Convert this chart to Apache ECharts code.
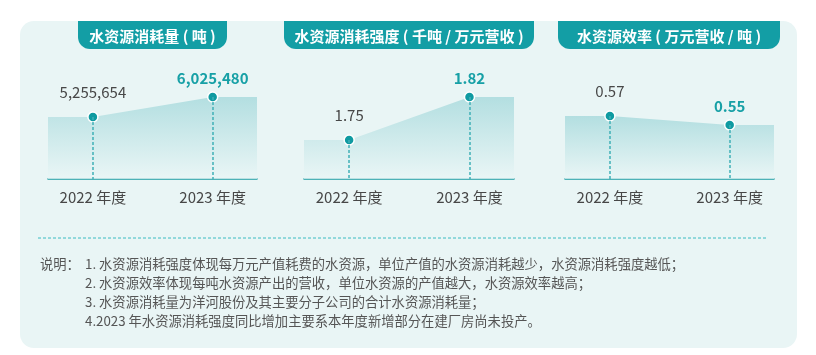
<!DOCTYPE html>
<html><head><meta charset="utf-8">
<script src="https://cdn.jsdelivr.net/npm/echarts@6/dist/echarts.min.js"></script>
<style>html,body{margin:0;padding:0;background:#fff}#c{width:816px;height:355px}</style>
</head><body><div id="c"></div>
<script>
var years = [2022, 2023];
var yearLabels = ['2022 年度', '2023 年度'];
var titles = ['水资源消耗量 ( 吨 )', '水资源消耗强度 ( 千吨 / 万元营收 )', '水资源效率 ( 万元营收 / 吨 )'];
var consumption = [5255654, 6025480];
var intensity = [1.75, 1.82];
var efficiency = [0.57, 0.55];
var valueTexts = [['5,255,654', '6,025,480'], ['1.75', '1.82'], ['0.57', '0.55']];
var notes = [
  '1. 水资源消耗强度体现每万元产值耗费的水资源，单位产值的水资源消耗越少，水资源消耗强度越低；',
  '2. 水资源效率体现每吨水资源产出的营收，单位水资源的产值越大，水资源效率越高；',
  '3. 水资源消耗量为洋河股份及其主要分子公司的合计水资源消耗量；',
  '4.2023 年水资源消耗强度同比增加主要系本年度新增部分在建厂房尚未投产。'
];
var noteLabel = '说明：';

var FONT = '"Noto Sans CJK SC","Noto Sans",sans-serif';
var TEAL = '#139ea5';
var XMIN = 2021.625, XMAX = 2023.37;
var series = [consumption, intensity, efficiency];
var yRanges = [[2870000, 8220000], [1.6865, 1.9128], [0.43, 0.739]];
var grids = [{left: 48, width: 209}, {left: 304, width: 210}, {left: 565, width: 209}];
var tabs = [[78, 149], [284, 250], [558, 222]];

var chart = echarts.init(document.getElementById('c'));
var opt = {
  animation: false,
  textStyle: {fontFamily: FONT},
  grid: [], xAxis: [], yAxis: [], series: [],
  graphic: []
};
grids.forEach(function (g, i) {
  opt.grid.push({left: g.left, width: g.width, top: 40, bottom: 176});
  opt.xAxis.push({
    type: 'value', gridIndex: i, min: XMIN, max: XMAX,
    splitLine: {show: false},
    axisLine: {show: true, onZero: false, lineStyle: {color: '#1b9ca2', width: 1.5}},
    axisTick: {show: false},
    axisLabel: {
      customValues: years, margin: 11, fontSize: 15, color: '#474747', fontFamily: FONT,
      formatter: function (v) { var k = years.indexOf(Math.round(v)); return k >= 0 ? yearLabels[k] : ''; }
    }
  });
  opt.yAxis.push({type: 'value', gridIndex: i, min: yRanges[i][0], max: yRanges[i][1], show: false});
  var vals = series[i];
  var data = [
    {value: [XMIN, vals[0]], symbol: 'none', label: {show: false}},
    {value: [years[0], vals[0]], label: {show: true, formatter: valueTexts[i][0], distance: 11, color: '#474747', fontSize: 15, fontWeight: 'normal'}},
    {value: [years[1], vals[1]], label: {show: true, formatter: valueTexts[i][1], distance: 5, color: '#17a0a6', fontSize: 15, fontWeight: 'bold'}},
    {value: [XMAX, vals[1]], symbol: 'none', label: {show: false}}
  ];
  opt.series.push({
    type: 'line', xAxisIndex: i, yAxisIndex: i, data: data,
    symbol: 'circle', symbolSize: 10, showAllSymbol: true,
    itemStyle: {color: '#0f9aa1', borderColor: '#fff', borderWidth: 1.5},
    lineStyle: {width: 0},
    label: {position: 'top', fontFamily: FONT},
    areaStyle: {
      color: new echarts.graphic.LinearGradient(0, 0, 0, 1, [
        {offset: 0, color: '#9cd5d8'}, {offset: 1, color: '#eaf6f6'}
      ])
    },
    z: 3,
    markLine: {
      silent: true, symbol: 'none', label: {show: false},
      lineStyle: {type: [3, 2], color: '#3fb0b6', width: 1.5},
      data: [
        [{coord: [years[0], vals[0]]}, {coord: [years[0], yRanges[i][0]]}],
        [{coord: [years[1], vals[1]]}, {coord: [years[1], yRanges[i][0]]}]
      ]
    }
  });
});

// panel background
opt.graphic.push({type: 'rect', z: -10, shape: {x: 20, y: 21, width: 777, height: 327, r: 14}, style: {fill: '#e9f5f5'}});
tabs.forEach(function (t, i) {
  opt.graphic.push({type: 'rect', z: 10, shape: {x: t[0], y: 21, width: t[1], height: 28, r: [0, 0, 12, 12]}, style: {fill: TEAL}});
  opt.graphic.push({type: 'text', z: 11, x: t[0] + t[1] / 2, y: 36,
    style: {text: titles[i], fill: '#fff', font: 'bold 15px ' + FONT, textAlign: 'center', textVerticalAlign: 'middle'}});
});
opt.graphic.push({type: 'line', z: 5, shape: {x1: 38, y1: 238, x2: 766, y2: 238}, style: {stroke: '#3bbcc2', lineWidth: 1, lineDash: [3, 2]}});
opt.graphic.push({type: 'text', z: 5, x: 40, y: 264, style: {text: noteLabel, fill: '#555', font: '13.3px ' + FONT, textVerticalAlign: 'middle'}});
notes.forEach(function (n, k) {
  opt.graphic.push({type: 'text', z: 5, x: 85, y: 264 + k * 19, style: {text: n, fill: '#555', font: '13.3px ' + FONT, textVerticalAlign: 'middle'}});
});
chart.setOption(opt);
</script></body></html>
